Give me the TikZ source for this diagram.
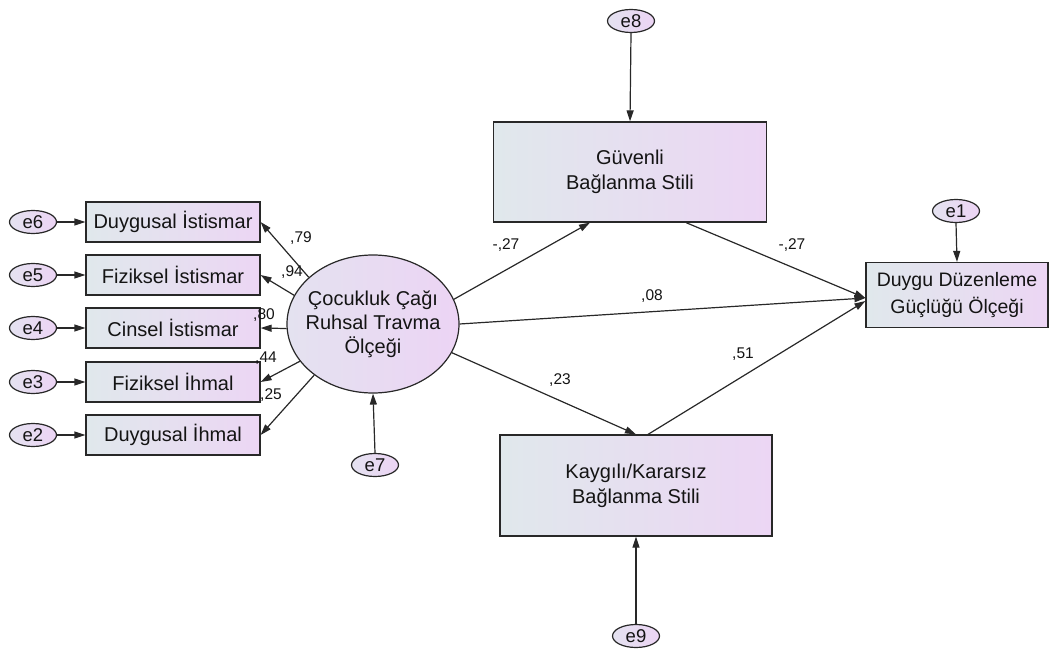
\documentclass[tikz,border=0pt]{standalone}
\usepackage{fontspec}
\setmainfont{Liberation Sans}
\usetikzlibrary{arrows.meta,shapes.geometric,calc}
\definecolor{lc}{RGB}{40,40,40}
\definecolor{tc}{RGB}{20,20,20}
\definecolor{gl}{RGB}{224,232,236}
\definecolor{gr}{RGB}{236,214,244}
\definecolor{el}{RGB}{228,226,240}
\definecolor{er}{RGB}{236,212,244}
\begin{document}
\begin{tikzpicture}[x=1pt,y=-1pt,
 obs/.style={draw=lc, line width=1.2pt, left color=gl, right color=gr, inner sep=0pt,
   font=\fontsize{20}{25}\selectfont, text=tc, align=center},
 err/.style={ellipse, draw=lc, line width=1.2pt, left color=el, right color=er,
   minimum width=47pt, minimum height=23pt, inner sep=0pt, font=\fontsize{18.5}{20}\selectfont, text=tc},
 arr/.style={draw=lc, line width=1.2pt, -{Triangle[length=11pt,width=7pt]}},
 lab/.style={font=\fontsize{15.5}{18}\selectfont, inner sep=0pt, text=tc}
]
\useasboundingbox (0,0) rectangle (1054,655);
% observed indicators
\foreach \n/\t/\y in {b1/Duygusal İstismar/222, b2/Fiziksel İstismar/275, b3/Cinsel İstismar/328, b4/Fiziksel İhmal/382, b5/Duygusal İhmal/435}{
  \node[obs, minimum width=174pt, minimum height=40pt] (\n) at (173,\y) {\t};
}
\foreach \n/\t/\y in {e6/e6/222, e5/e5/275, e4/e4/328, e3/e3/382, e2/e2/435}{
  \node[err] (\n) at (33,\y) {\t};
}
\node[ellipse, draw=lc, line width=1.2pt, left color=el, right color=er, minimum width=172pt, minimum height=138pt,
  inner xsep=-9pt, inner ysep=0pt, align=center, font=\fontsize{20}{24}\selectfont, text=tc] (big) at (373,324) {Çocukluk Çağı\\Ruhsal Travma\\Ölçeği};
\node[err] (e7) at (375,465) {e7};
\node[obs, minimum width=273pt, minimum height=100pt] (guv) at (630,172) {Güvenli\\Bağlanma Stili};
\node[obs, minimum width=272pt, minimum height=101pt] (kay) at (636,485.5) {Kaygılı/Kararsız\\Bağlanma Stili};
\node[obs, minimum width=182pt, minimum height=65pt, font=\fontsize{19.5}{26}\selectfont] (duy) at (957,295) {Duygu Düzenleme\\Güçlüğü Ölçeği};
\node[err] (e8) at (631,21) {e8};
\node[err] (e1) at (956,211) {e1};
\node[err] (e9) at (636,636) {e9};

% error arrows
\foreach \e/\b in {e6/b1, e5/b2, e4/b3, e3/b4, e2/b5}{
  \draw[arr] (\e.east) -- (\b.west);
}
\draw[arr] (e7.north) -- (big.south);
\draw[arr] (e8.south) -- (guv.north);
\draw[arr] (e1.south) -- (duy.north);
\draw[arr] (e9.north) -- (kay.south);

% loadings
\draw[arr] (big.144) -- (b1.east);
\draw[arr] (big.160) -- (b2.east);
\draw[arr] (big.183) -- (b3.east);
\draw[arr] (big.207) -- (b4.east);
\draw[arr] (big.221) -- (b5.east);

% structural paths
\draw[arr] (big.17) -- ([xshift=-40pt]guv.south);
\draw[arr] ([xshift=56pt]guv.south) -- ([yshift=-3pt]duy.west);
\draw[arr] (big.0) -- ([yshift=-3pt]duy.west);
\draw[arr] (big.-20) -- (kay.north);
\draw[arr] ([xshift=12pt]kay.north) -- ([yshift=-6pt]duy.west);

% labels
\node[lab] (l79) at (301,238) {,79};
\node[lab] (l94) at (292,272) {,94};
\node[lab] (l80) at (264,315) {,80};
\node[lab] (l44) at (266,358) {,44};
\node[lab] (l25) at (271,395) {,25};
\node[lab] (l27a) at (506,245) {-,27};
\node[lab] (l27b) at (792,245) {-,27};
\node[lab] (l08) at (652,296) {,08};
\node[lab] (l23) at (560,380) {,23};
\node[lab] (l51) at (743,354) {,51};
\end{tikzpicture}
\end{document}
